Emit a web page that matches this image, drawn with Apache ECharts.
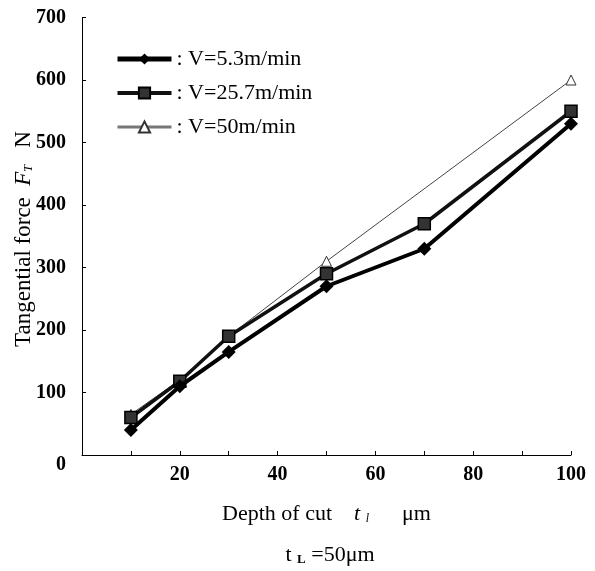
<!DOCTYPE html>
<html>
<head>
<meta charset="utf-8">
<script src="https://cdn.jsdelivr.net/npm/echarts@6/dist/echarts.min.js"></script>
<style>
  html, body { margin: 0; padding: 0; background: #fff; }
  #chart { width: 595px; height: 571px; }
</style>
</head>
<body>
<div id="chart"></div>
<script>
// depth of cut (um) -> tangential force (N)
const seriesNames = ['V=5.3m/min', 'V=25.7m/min', 'V=50m/min']
const depthA = [10, 20, 30, 50, 70, 100]
const forceSlow = [40, 110, 165, 270, 330, 530]
const forceMid = [60, 118, 190, 290, 370, 550]
const depthFast = [10, 20, 30, 50, 100]
const forceFast = [65, 120, 190, 310, 600]
const xLabels = [20, 40, 60, 80, 100]

const serif = '"Liberation Serif", "Times New Roman", serif'
const pairs = (xs, ys) => xs.map((x, i) => [x, ys[i]])

const chart = echarts.init(document.getElementById('chart'))

chart.setOption({
  animation: false,
  backgroundColor: '#fff',
  grid: { left: 82, right: 24, top: 17.5, bottom: 116 },
  legend: {
    orient: 'vertical',
    left: 110,
    top: 43,
    itemWidth: 54,
    itemHeight: 14,
    itemGap: 12,
    data: [
      { name: seriesNames[0], lineStyle: { width: 5 } },
      { name: seriesNames[1], lineStyle: { width: 4 } },
      { name: seriesNames[2], lineStyle: { width: 3, color: '#777' } }
    ],
    formatter: name => ': ' + name,
    textStyle: { fontFamily: serif, fontSize: 22, color: '#000' }
  },
  xAxis: {
    type: 'value',
    min: 0,
    max: 100,
    interval: 10,
    name: 'Depth of cut    {i|t} {s|l}      μm',
    nameLocation: 'middle',
    nameGap: 48,
    nameTextStyle: {
      fontFamily: serif, fontSize: 22, color: '#000',
      rich: {
        i: { fontFamily: serif, fontStyle: 'italic', fontSize: 22 },
        s: { fontFamily: serif, fontStyle: 'italic', fontSize: 12, padding: [9, 0, 0, 0] }
      }
    },
    axisLine: { lineStyle: { color: '#000', width: 1 } },
    axisTick: { inside: true, length: 4, lineStyle: { color: '#000' } },
    splitLine: { show: false },
    axisLabel: {
      margin: 10,
      fontFamily: serif, fontSize: 20, fontWeight: 'bold', color: '#000',
      formatter: v => (xLabels.includes(v) ? String(v) : '')
    }
  },
  yAxis: {
    type: 'value',
    min: 0,
    max: 700,
    interval: 100,
    axisLine: { show: true, lineStyle: { color: '#000', width: 1 } },
    axisTick: { show: true, inside: true, length: 4, lineStyle: { color: '#000' } },
    splitLine: { show: false },
    axisLabel: {
      margin: 16,
      fontFamily: serif, fontSize: 20, fontWeight: 'bold', color: '#000',
      formatter: v => (v === 0 ? '{z|0}' : String(v)),
      rich: {
        z: { fontFamily: serif, fontSize: 20, fontWeight: 'bold', color: '#000', padding: [20, 0, 0, 0] }
      }
    }
  },
  graphic: [
    {
      type: 'text',
      x: 24,
      y: 239,
      rotation: Math.PI / 2,
      style: {
        text: 'Tangential force  {i|F}{s|T}   N',
        fontFamily: serif,
        fontSize: 23,
        fill: '#000',
        align: 'center',
        verticalAlign: 'middle',
        rich: {
          i: { fontFamily: serif, fontStyle: 'italic', fontSize: 23 },
          s: { fontFamily: serif, fontStyle: 'italic', fontSize: 12, padding: [10, 0, 0, 0] }
        }
      }
    },
    {
      type: 'text',
      x: 330,
      y: 555,
      style: {
        text: 't {s|L} =50μm',
        fontFamily: serif,
        fontSize: 22,
        fill: '#000',
        align: 'center',
        verticalAlign: 'middle',
        rich: {
          s: { fontFamily: serif, fontSize: 13, fontWeight: 'bold', padding: [9, 0, 0, 0] }
        }
      }
    }
  ],
  series: [
    {
      name: seriesNames[2],
      type: 'line',
      data: pairs(depthFast, forceFast),
      symbol: 'triangle',
      symbolSize: 10,
      z: 2,
      lineStyle: { color: '#444', width: 1 },
      itemStyle: { color: '#fff', borderColor: '#333', borderWidth: 1 }
    },
    {
      name: seriesNames[1],
      type: 'line',
      data: pairs(depthA, forceMid),
      symbol: 'rect',
      symbolSize: 12,
      z: 3,
      lineStyle: { color: '#111', width: 3.5 },
      itemStyle: { color: '#333', borderColor: '#000', borderWidth: 1.5 }
    },
    {
      name: seriesNames[0],
      type: 'line',
      data: pairs(depthA, forceSlow),
      symbol: 'diamond',
      symbolSize: 14,
      z: 4,
      lineStyle: { color: '#000', width: 4 },
      itemStyle: { color: '#000' }
    }
  ]
})
</script>
</body>
</html>
